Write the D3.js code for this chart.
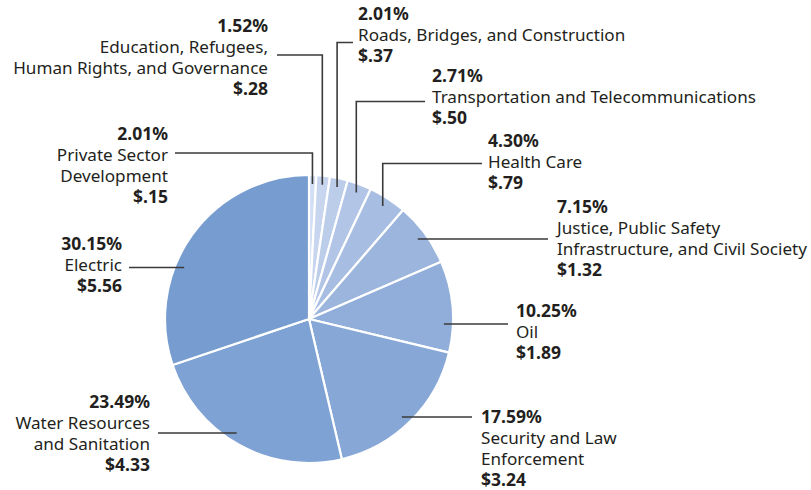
<!DOCTYPE html>
<html>
<head>
<meta charset="utf-8">
<script src="https://cdn.jsdelivr.net/npm/d3@7"></script>
<style>
  body { margin: 0; background: #fff; }
  svg text { font-family: "Noto Sans", sans-serif; fill: #231f20; }
</style>
</head>
<body>
<svg id="chart" width="811" height="490"></svg>
<script>
// Funding by sector (billions), clockwise from 12 o'clock
const categories = [
  ["Private Sector", "Development"],
  ["Education, Refugees,", "Human Rights, and Governance"],
  ["Roads, Bridges, and Construction"],
  ["Transportation and Telecommunications"],
  ["Health Care"],
  ["Justice, Public Safety", "Infrastructure, and Civil Society"],
  ["Oil"],
  ["Security and Law", "Enforcement"],
  ["Water Resources", "and Sanitation"],
  ["Electric"]
];
const values = [0.15, 0.28, 0.37, 0.50, 0.79, 1.32, 1.89, 3.24, 4.33, 5.56];
const percentLabels = ["2.01%", "1.52%", "2.01%", "2.71%", "4.30%", "7.15%", "10.25%", "17.59%", "23.49%", "30.15%"];
const valueLabels = ["$.15", "$.28", "$.37", "$.50", "$.79", "$1.32", "$1.89", "$3.24", "$4.33", "$5.56"];

const colors = ["#d2def2", "#c7d5ee", "#bccdea", "#b2c5e6", "#a7bde2", "#9cb5dd", "#91aeda", "#87a8d7", "#7ea2d4", "#779cd0"];

// label placement: text anchor point, leader y, leader end at text side
const layout = [
  {x: 168, y: 140, anchor: "end",   ly: 153,   lx: 175, elbow: true},
  {x: 268, y: 32,  anchor: "end",   ly: 55,    lx: 277, elbow: true},
  {x: 358, y: 20,  anchor: "start", ly: 42.5,  lx: 353, elbow: true},
  {x: 432, y: 82,  anchor: "start", ly: 101.5, lx: 425, elbow: true},
  {x: 488, y: 147, anchor: "start", ly: 163.5, lx: 482, elbow: true},
  {x: 557, y: 213, anchor: "start", ly: 239,   lx: 548},
  {x: 516, y: 317, anchor: "start", ly: 324,   lx: 508},
  {x: 481, y: 423, anchor: "start", ly: 417,   lx: 472},
  {x: 150, y: 408, anchor: "end",   ly: 433,   lx: 158},
  {x: 122, y: 250, anchor: "end",   ly: 267.5, lx: 129}
];

const cx = 309, cy = 319, radius = 144, leaderR = 135, lineH = 21;

const svg = d3.select("#chart");
const g = svg.append("g").attr("transform", "translate(" + cx + "," + cy + ")");

const pie = d3.pie().sort(null).value(d => d);
const arcs = pie(values);
const arc = d3.arc().innerRadius(0).outerRadius(radius);
const color = d3.scaleOrdinal().domain(d3.range(values.length)).range(colors);

g.selectAll("path.slice")
  .data(arcs)
  .enter().append("path")
  .attr("class", "slice")
  .attr("d", arc)
  .style("fill", (d, i) => color(i))
  .style("stroke", "#fff")
  .style("stroke-width", 2.2)
  .style("stroke-linejoin", "round");

// Leader lines: they stop on a circle just inside the pie edge.
svg.selectAll("path.leader")
  .data(arcs)
  .enter().append("path")
  .attr("class", "leader")
  .attr("d", (d, i) => {
    let l = layout[i];
    if (l.elbow) {
      let mid = (d.startAngle + d.endAngle) / 2;
      let dx = leaderR * Math.sin(mid);
      let dy = Math.sqrt(leaderR * leaderR - dx * dx);
      return "M" + l.lx + "," + l.ly + "H" + (cx + dx) + "V" + (cy - dy);
    }
    let dy = l.ly - cy;
    let dx = Math.sqrt(leaderR * leaderR - dy * dy) * (l.anchor == "end" ? -1 : 1);
    return "M" + l.lx + "," + l.ly + "H" + (cx + dx);
  })
  .style("fill", "none")
  .style("stroke", "#3a3a3a")
  .style("stroke-width", 1.6);

// Labels: bold percent, name lines, bold amount
const labels = svg.selectAll("text.label")
  .data(arcs)
  .enter().append("text")
  .attr("class", "label")
  .attr("text-anchor", (d, i) => layout[i].anchor)
  .style("font-size", "17.1px");

labels.each(function(d, i) {
  let t = d3.select(this);
  let l = layout[i];
  let lines = [percentLabels[i]].concat(categories[i], [valueLabels[i]]);
  lines.forEach((s, j) => {
    let bold = (j == 0 || j == lines.length - 1);
    t.append("tspan")
      .attr("x", l.x)
      .attr("y", l.y + j * lineH)
      .style("font-weight", bold ? "bold" : "normal")
      .style("font-size", bold ? "17.5px" : null)
      .text(s);
  });
});
</script>
</body>
</html>
